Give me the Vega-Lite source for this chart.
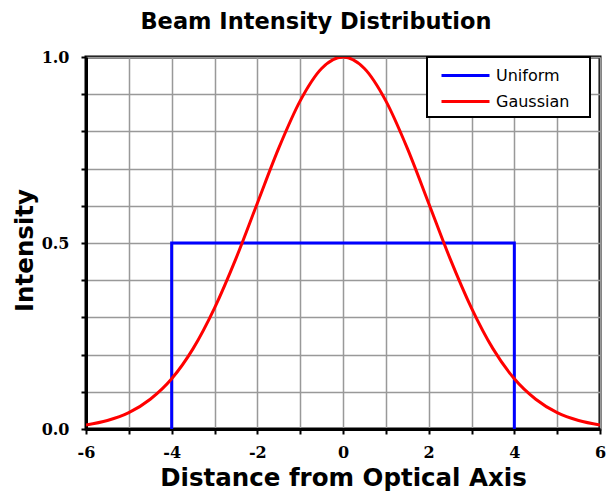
{
  "$schema": "https://vega.github.io/schema/vega-lite/v6.json",
  "width": 514,
  "height": 372,
  "autosize": "none",
  "padding": {"left": 86, "top": 57, "right": 11, "bottom": 67},
  "background": "white",
  "title": {
    "text": "Beam Intensity Distribution",
    "font": "DejaVu Sans",
    "fontSize": 22.5,
    "fontWeight": "bold",
    "color": "black",
    "anchor": "middle",
    "dx": -27,
    "offset": 16
  },
  "data": {
    "values": [
      {"x": -4, "y": 0, "series": "Uniform", "i": 1},
      {"x": -4, "y": 0.5, "series": "Uniform", "i": 2},
      {"x": 4, "y": 0.5, "series": "Uniform", "i": 3},
      {"x": 4, "y": 0, "series": "Uniform", "i": 4},
      {"x": -6, "y": 0.011, "series": "Gaussian", "i": 1},
      {"x": -5.5, "y": 0.023, "series": "Gaussian", "i": 2},
      {"x": -5, "y": 0.044, "series": "Gaussian", "i": 3},
      {"x": -4.5, "y": 0.080, "series": "Gaussian", "i": 4},
      {"x": -4, "y": 0.135, "series": "Gaussian", "i": 5},
      {"x": -3.5, "y": 0.216, "series": "Gaussian", "i": 6},
      {"x": -3, "y": 0.325, "series": "Gaussian", "i": 7},
      {"x": -2.5, "y": 0.458, "series": "Gaussian", "i": 8},
      {"x": -2, "y": 0.607, "series": "Gaussian", "i": 9},
      {"x": -1.5, "y": 0.755, "series": "Gaussian", "i": 10},
      {"x": -1, "y": 0.882, "series": "Gaussian", "i": 11},
      {"x": -0.5, "y": 0.969, "series": "Gaussian", "i": 12},
      {"x": 0, "y": 1.0, "series": "Gaussian", "i": 13},
      {"x": 0.5, "y": 0.969, "series": "Gaussian", "i": 14},
      {"x": 1, "y": 0.882, "series": "Gaussian", "i": 15},
      {"x": 1.5, "y": 0.755, "series": "Gaussian", "i": 16},
      {"x": 2, "y": 0.607, "series": "Gaussian", "i": 17},
      {"x": 2.5, "y": 0.458, "series": "Gaussian", "i": 18},
      {"x": 3, "y": 0.325, "series": "Gaussian", "i": 19},
      {"x": 3.5, "y": 0.216, "series": "Gaussian", "i": 20},
      {"x": 4, "y": 0.135, "series": "Gaussian", "i": 21},
      {"x": 4.5, "y": 0.080, "series": "Gaussian", "i": 22},
      {"x": 5, "y": 0.044, "series": "Gaussian", "i": 23},
      {"x": 5.5, "y": 0.023, "series": "Gaussian", "i": 24},
      {"x": 6, "y": 0.011, "series": "Gaussian", "i": 25}
    ]
  },
  "encoding": {
    "x": {
      "field": "x",
      "type": "quantitative",
      "scale": {"domain": [-6, 6], "nice": false, "zero": false},
      "axis": {
        "values": [-6, -5, -4, -3, -2, -1, 0, 1, 2, 3, 4, 5, 6],
        "labelExpr": "datum.value % 2 === 0 ? '' + datum.value : ''",
        "title": "Distance from Optical Axis",
        "grid": true,
        "gridColor": "#999999",
        "gridWidth": 1.5,
        "domainColor": "black",
        "domainWidth": 3,
        "tickColor": "black",
        "tickWidth": 2,
        "tickSize": 5,
        "labelFont": "DejaVu Serif",
        "labelFontWeight": "bold",
        "labelFontSize": 16,
        "labelColor": "black",
        "labelPadding": 10,
        "labelFlush": false,
        "titleFont": "DejaVu Sans",
        "titleFontSize": 24.5,
        "titleFontWeight": "bold",
        "titleColor": "black",
        "titlePadding": 6
      }
    },
    "y": {
      "field": "y",
      "type": "quantitative",
      "scale": {"domain": [0, 1], "nice": false},
      "axis": {
        "values": [0, 0.1, 0.2, 0.3, 0.4, 0.5, 0.6, 0.7, 0.8, 0.9, 1.0],
        "labelExpr": "(datum.value == 0 || datum.value == 0.5 || datum.value == 1) ? datum.label : ''",
        "format": ".1f",
        "title": "Intensity",
        "grid": true,
        "gridColor": "#999999",
        "gridWidth": 1.5,
        "domainColor": "black",
        "domainWidth": 3,
        "tickColor": "black",
        "tickWidth": 2,
        "tickSize": 5,
        "labelFont": "DejaVu Serif",
        "labelFontWeight": "bold",
        "labelFontSize": 16,
        "labelColor": "black",
        "labelPadding": 12,
        "labelFlush": false,
        "titleFont": "DejaVu Sans",
        "titleFontSize": 24.5,
        "titleFontWeight": "bold",
        "titleColor": "black",
        "titleAngle": -90,
        "titleAlign": "center",
        "titleBaseline": "middle",
        "titleX": -61,
        "titleY": 193
      }
    },
    "color": {
      "field": "series",
      "type": "nominal",
      "scale": {"domain": ["Uniform", "Gaussian"], "range": ["#0000ff", "#ff0000"]},
      "legend": {
        "title": "\u00a0",
        "titleOrient": "right",
        "titlePadding": 14,
        "titleFontSize": 10,
        "orient": "none",
        "legendX": 341,
        "legendY": 0,
        "symbolType": "M-0.4,0H4.4",
        "symbolSize": 400,
        "symbolStrokeWidth": 3,
        "labelFont": "DejaVu Sans",
        "labelFontSize": 16,
        "labelColor": "black",
        "labelOffset": 39,
        "rowPadding": 6,
        "padding": 7,
        "strokeColor": "black",
        "fillColor": "white",
        "direction": "vertical"
      }
    },
    "order": {"field": "i", "type": "quantitative"}
  },
  "layer": [
    {
      "transform": [{"filter": "datum.series === 'Uniform'"}],
      "mark": {"type": "line", "strokeWidth": 3, "interpolate": "linear", "clip": true}
    },
    {
      "transform": [{"filter": "datum.series === 'Gaussian'"}],
      "mark": {"type": "line", "strokeWidth": 3, "interpolate": "monotone", "clip": true}
    }
  ],
  "config": {
    "view": {"stroke": "black", "strokeWidth": 3},
    "legend": {"strokeWidth": 2}
  }
}
